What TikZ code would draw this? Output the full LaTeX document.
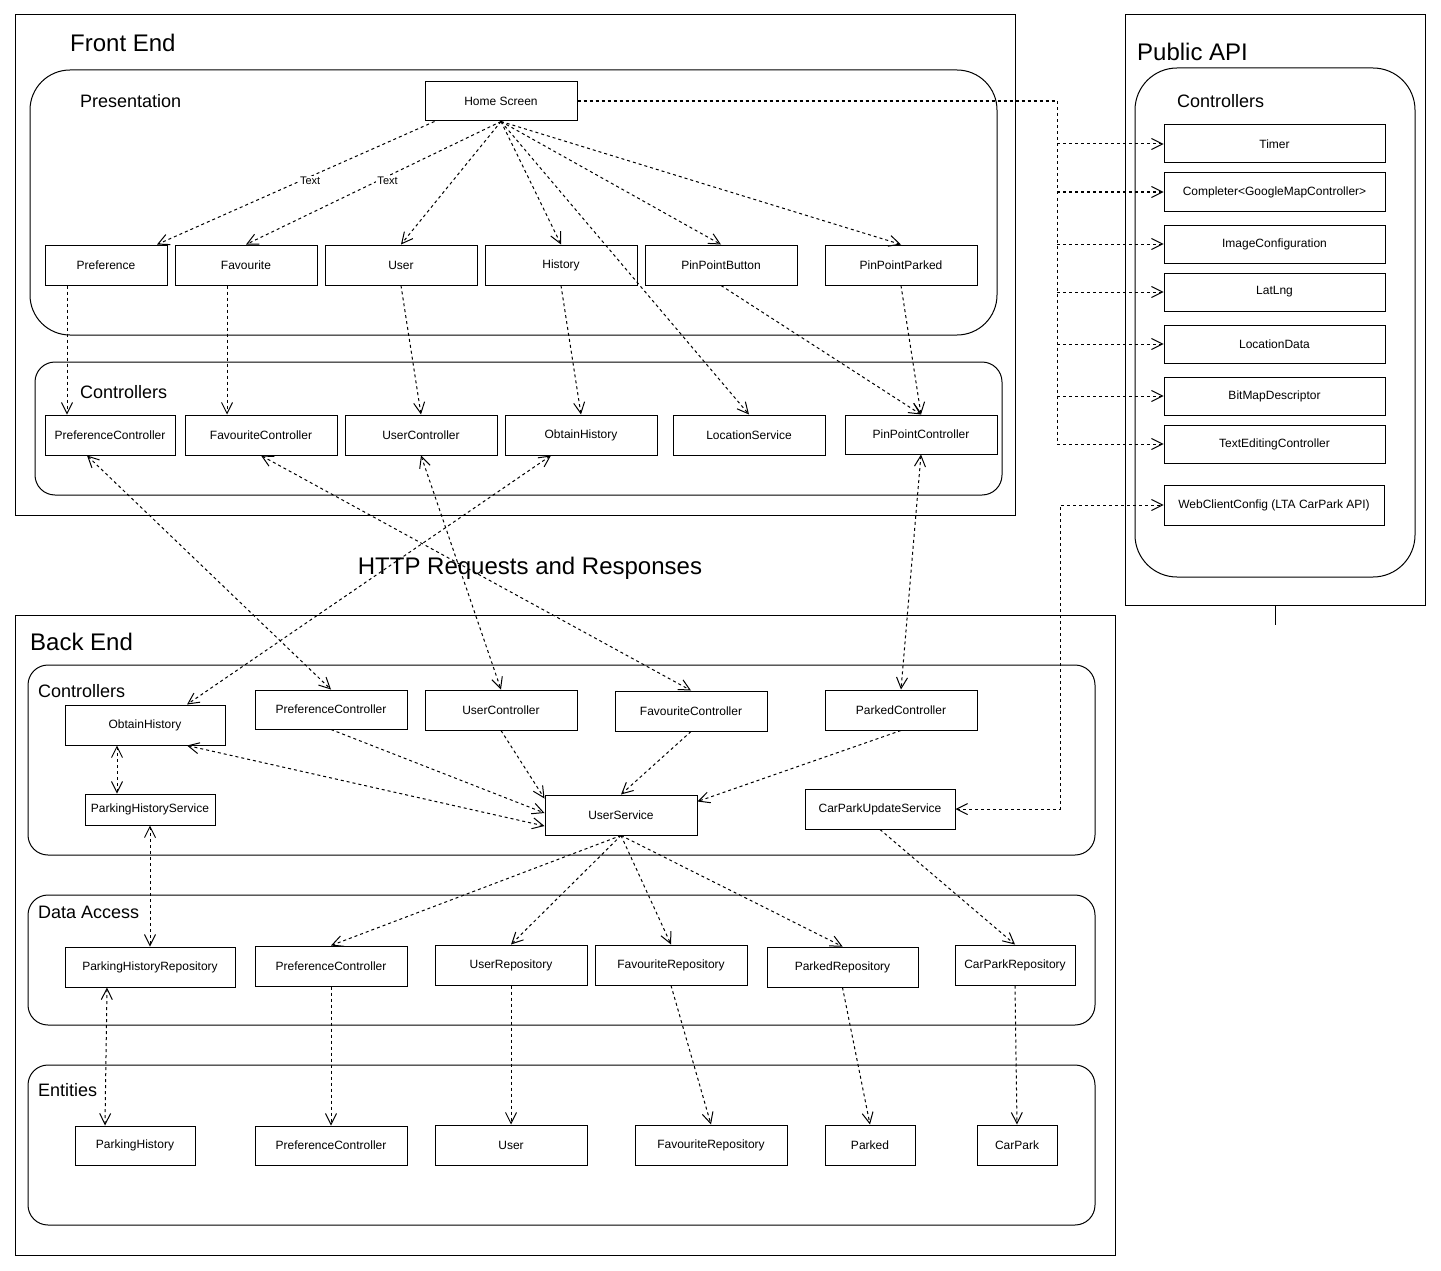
\documentclass[tikz,border=0pt]{standalone}
\usepackage{fontspec}
\setmainfont{Liberation Sans}
\usetikzlibrary{arrows.meta,calc}

\tikzset{
  box/.style={draw, line width=1pt, inner sep=0pt, fill=white, font=\fontsize{12pt}{14pt}\selectfont},
  group/.style={draw, line width=1pt},
  title/.style={anchor=base west, inner sep=0pt, font=\fontsize{24pt}{28pt}\selectfont},
  sub/.style={anchor=base west, inner sep=0pt, font=\fontsize{18pt}{22pt}\selectfont},
  lbl/.style={fill=white, inner sep=1pt, font=\fontsize{11pt}{13pt}\selectfont},
  dep/.style={line width=1pt, dash pattern=on 3pt off 3pt, ->},
  dep2/.style={line width=1pt, dash pattern=on 3pt off 3pt, <->},
  trunk/.style={line width=1pt, dash pattern=on 3pt off 3pt},
}

% box from its corner pixels: name, x1, y1, x2, y2, text
\newcommand\umlbox[6]{%
  \pgfmathsetmacro\ubcx{(#2+#4)/2}\pgfmathsetmacro\ubcy{(#3+#5)/2}%
  \pgfmathsetmacro\ubw{#4-#2}\pgfmathsetmacro\ubh{#5-#3}%
  \node[box, minimum width=\ubw pt, minimum height=\ubh pt] (#1) at (\ubcx,\ubcy) {#6};}

\begin{document}
\begin{tikzpicture}[x=1pt, y=-1pt, >={Straight Barb[length=11pt,width=11pt]}]
\useasboundingbox (0,0) rectangle (1441,1271);

% outer frames
\draw[group] (15,15) rectangle (1015,515);
\draw[group] (1125,15) rectangle (1425,605);
\draw[group] (15,615) rectangle (1115,1255);
\draw[group] (1275,605) -- (1275,625);

% layer groups
\draw[group, rounded corners=40pt] (30,70) rectangle (997,335);
\draw[group, rounded corners=20pt] (35,362) rectangle (1002,495);
\draw[group, rounded corners=42pt] (1135,68) rectangle (1415,577);
\draw[group, rounded corners=20pt] (28,665) rectangle (1095,855);
\draw[group, rounded corners=20pt] (28,895) rectangle (1095,1025);
\draw[group, rounded corners=20pt] (28,1065) rectangle (1095,1225);

% titles
\node[title] (tfe) at (70,52) {Front End};
\node[title] (tapi) at (1137,61) {Public API};
\node[title] (tbe) at (30,650) {Back End};
\node[anchor=base, inner sep=0pt, font=\fontsize{24pt}{28pt}\selectfont] (thttp) at (530,574) {HTTP Requests and Responses};
\node[sub] (tpres) at (80,108) {Presentation};
\node[sub] (tfec) at (80,398) {Controllers};
\node[sub] (tapic) at (1177,108) {Controllers};
\node[sub] (tbec) at (38,697) {Controllers};
\node[sub] (tda) at (38,918) {Data Access};
\node[sub] (tent) at (38,1096) {Entities};

% presentation
\umlbox{home}{425}{82}{577}{121}{Home Screen}
\umlbox{pref}{45}{245}{167}{285}{Preference}
\umlbox{fav}{175}{245}{317}{285}{Favourite}
\umlbox{user}{325}{245}{477}{285}{User}
\umlbox{hist}{485}{245}{637}{285}{History}
\umlbox{ppb}{645}{245}{797}{285}{PinPointButton}
\umlbox{ppp}{825}{245}{977}{285}{PinPointParked}

% front-end controllers
\umlbox{fpc}{45}{415}{175}{455}{PreferenceController}
\umlbox{ffc}{185}{415}{337}{455}{FavouriteController}
\umlbox{fuc}{345}{415}{497}{455}{UserController}
\umlbox{foh}{505}{415}{657}{455}{ObtainHistory}
\umlbox{fls}{673}{415}{825}{455}{LocationService}
\umlbox{fppc}{845}{415}{997}{454}{PinPointController}

% public API controllers
\umlbox{timer}{1164}{125}{1385}{163}{Timer}
\umlbox{comp}{1164}{173}{1385}{211}{Completer<GoogleMapController>}
\umlbox{imgc}{1164}{225}{1385}{263}{ImageConfiguration}
\umlbox{latlng}{1164}{273}{1385}{311}{LatLng}
\umlbox{locdata}{1164}{325}{1385}{363}{LocationData}
\umlbox{bitmap}{1164}{377}{1385}{415}{BitMapDescriptor}
\umlbox{textedit}{1164}{425}{1385}{463}{TextEditingController}
\umlbox{wcc}{1164}{485}{1384}{525}{WebClientConfig (LTA CarPark API)}

% back-end controllers
\umlbox{boh}{65}{705}{225}{745}{ObtainHistory}
\umlbox{bpc}{255}{690}{407}{729}{PreferenceController}
\umlbox{buc}{425}{690}{577}{730}{UserController}
\umlbox{bfc}{615}{691}{767}{731}{FavouriteController}
\umlbox{bpk}{825}{690}{977}{730}{ParkedController}
\umlbox{phs}{85}{794}{215}{825}{ParkingHistoryService}
\umlbox{usvc}{545}{795}{697}{835}{UserService}
\umlbox{cpus}{805}{789}{955}{829}{CarParkUpdateService}

% data access
\umlbox{phr}{65}{947}{235}{987}{ParkingHistoryRepository}
\umlbox{dpc}{255}{946}{407}{986}{PreferenceController}
\umlbox{urepo}{435}{945}{587}{985}{UserRepository}
\umlbox{frepo}{595}{945}{747}{985}{FavouriteRepository}
\umlbox{prepo}{767}{947}{918}{987}{ParkedRepository}
\umlbox{cprepo}{955}{945}{1075}{985}{CarParkRepository}

% entities
\umlbox{ph}{75}{1126}{195}{1165}{ParkingHistory}
\umlbox{epc}{255}{1126}{407}{1165}{PreferenceController}
\umlbox{euser}{435}{1125}{587}{1165}{User}
\umlbox{efrepo}{635}{1125}{787}{1165}{FavouriteRepository}
\umlbox{epk}{825}{1125}{915}{1165}{Parked}
\umlbox{ecp}{977}{1125}{1057}{1165}{CarPark}

% home screen dependencies
\draw[dep] ([xshift=10pt]home.south west) -- node[lbl, pos=0.484, xshift=10pt] {Text} ([xshift=51pt]pref.north);
\draw[dep] (home.south) -- node[lbl, pos=0.484, xshift=10pt] {Text} (fav.north);
\draw[dep] (home.south) -- (user.north);
\draw[dep] (home.south) -- (hist.north);
\draw[dep] (home.south) -- (ppb.north);
\draw[dep] (home.south) -- (ppp.north);
\draw[dep] (home.south) -- (fls.north);

% home screen to public API: shared trunk, then one branch per class
\coordinate (hb) at (1057,101.5);
\coordinate (hbend) at (1057,444);
\draw[trunk, line width=2pt] (home.east) -- (hb);
\draw[trunk] (hb) -- (hbend);
\foreach \t in {timer,comp,imgc,latlng,locdata,bitmap,textedit}
  \draw[dep] (hb |- \t.west) -- (\t.west);

% presentation to controllers
\draw[dep] ([xshift=-39pt]pref.south) -- ([xshift=-43pt]fpc.north);
\draw[dep] ([xshift=-19pt]fav.south) -- ([xshift=-34pt]ffc.north);
\draw[dep] (user.south) -- (fuc.north);
\draw[dep] (hist.south) -- (foh.north);
\draw[dep] (ppb.south) -- (fppc.north);
\draw[dep] (ppp.south) -- (fppc.north);

% front end <-> back end
\draw[dep2] ([xshift=-23pt]fpc.south) -- (bpc.north);
\draw[dep2] (ffc.south) -- (bfc.north);
\draw[dep2] (fuc.south) -- (buc.north);
\draw[dep2] ([xshift=-30pt]foh.south) -- ([xshift=42pt]boh.north);
\draw[dep2] (fppc.south) -- (bpk.north);

% back-end controllers
\draw[dep2] ([xshift=-28pt]boh.south) -- ([xshift=-33pt]phs.north);
\draw[dep2] ([xshift=42pt]boh.south) -- ([yshift=-11pt]usvc.west);
\draw[dep] (bpc.south) -- ([yshift=2pt]usvc.west);
\draw[dep] (buc.south) -- ([yshift=-4pt]usvc.north west);
\draw[dep] (bfc.south) -- (usvc.north);
\draw[dep] (bpk.south) -- ([yshift=-7pt]usvc.north east);
\coordinate (wb1) at (1060,809);
\coordinate (wb2) at (1060,505);
\draw[dep2] (cpus.east) -- (wb1) -- (wb2) -- (wcc.west);

% services to data access
\draw[dep2] (phs.south) -- (phr.north);
\draw[dep] (usvc.south) -- (dpc.north);
\draw[dep] (usvc.south) -- (urepo.north);
\draw[dep] (usvc.south) -- (frepo.north);
\draw[dep] (usvc.south) -- (prepo.north);
\draw[dep] (cpus.south) -- (cprepo.north);

% data access to entities
\draw[dep2] ([xshift=-43pt]phr.south) -- ([xshift=-30pt]ph.north);
\draw[dep] (dpc.south) -- (epc.north);
\draw[dep] (urepo.south) -- (euser.north);
\draw[dep] (frepo.south) -- (efrepo.north);
\draw[dep] (prepo.south) -- (epk.north);
\draw[dep] (cprepo.south) -- (ecp.north);
\end{tikzpicture}
\end{document}
